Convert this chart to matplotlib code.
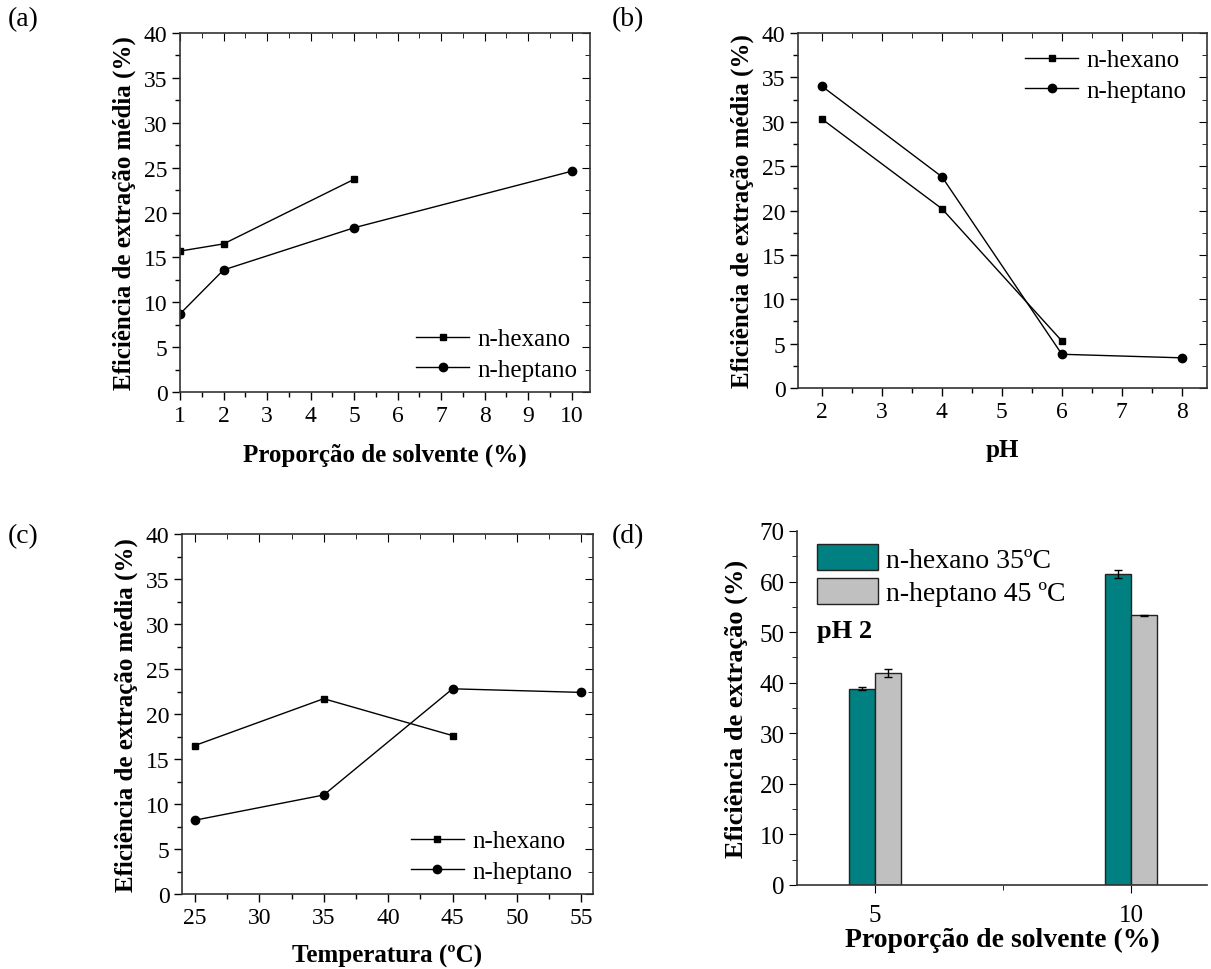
import numpy as np
import matplotlib
matplotlib.use('Agg')
import matplotlib.pyplot as plt
from matplotlib.ticker import MultipleLocator, AutoMinorLocator

plt.rcParams['font.family'] = ['Liberation Serif', 'DejaVu Serif']

# (a) proporcao de solvente
a_hex_x = [1, 2, 5]
a_hex_y = [15.7, 16.5, 23.7]
a_hep_x = [1, 2, 5, 10]
a_hep_y = [8.7, 13.6, 18.3, 24.6]

# (b) pH
b_hex_x = [2, 4, 6]
b_hex_y = [30.3, 20.2, 5.3]
b_hep_x = [2, 4, 6, 8]
b_hep_y = [34.0, 23.8, 3.8, 3.4]

# (c) temperatura
c_hex_x = [25, 35, 45]
c_hex_y = [16.5, 21.7, 17.6]
c_hep_x = [25, 35, 45, 55]
c_hep_y = [8.2, 11.0, 22.8, 22.4]

# (d) barras
d_cats = ['5', '10']
d_hex = [38.8, 61.5]
d_hex_err = [0.3, 0.7]
d_hep = [42.0, 53.3]
d_hep_err = [0.8, 0.1]

W, H = 1211, 970
fig = plt.figure(figsize=(W / 100, H / 100), dpi=100)


def box(l, r, t, b):
    return [l / W, 1 - b / H, (r - l) / W, (b - t) / H]


def style(ax, xmaj, xmin_n, ymaj, ymin_n):
    ax.xaxis.set_major_locator(MultipleLocator(xmaj))
    ax.xaxis.set_minor_locator(AutoMinorLocator(xmin_n))
    ax.yaxis.set_major_locator(MultipleLocator(ymaj))
    ax.yaxis.set_minor_locator(AutoMinorLocator(ymin_n))
    ax.tick_params(which='both', direction='out', top=False, right=False,
                   labelsize=17, width=1, colors='black', pad=3)
    ax.tick_params(which='major', length=6)
    ax.tick_params(which='minor', length=3.5)
    for s in ax.spines.values():
        s.set_linewidth(1.2)
        s.set_color('#333333')
    # mirror ticks pointing inward on top/right
    tx = ax.secondary_xaxis('top')
    tx.xaxis.set_major_locator(MultipleLocator(xmaj))
    tx.xaxis.set_minor_locator(AutoMinorLocator(xmin_n))
    tx.tick_params(which='both', direction='in', labeltop=False)
    tx.tick_params(which='major', length=6)
    tx.tick_params(which='minor', length=3.5)
    tx.spines['top'].set_visible(False)
    ty = ax.secondary_yaxis('right')
    ty.yaxis.set_major_locator(MultipleLocator(ymaj))
    ty.yaxis.set_minor_locator(AutoMinorLocator(ymin_n))
    ty.tick_params(which='both', direction='in', labelright=False)
    ty.tick_params(which='major', length=6)
    ty.tick_params(which='minor', length=3.5)
    ty.spines['right'].set_visible(False)


ylab = 'Eficiência de extração média (%)'
lab_kw = dict(fontsize=18, fontweight='bold')
leg_kw = dict(frameon=False, fontsize=18, handlelength=2.1, handletextpad=0.35,
              labelspacing=0.33, borderaxespad=0, borderpad=0)
hex_kw = dict(color='black', marker='s', markersize=5, lw=1)
hep_kw = dict(color='black', marker='o', markersize=6, lw=1)

# (a)
ax = fig.add_axes(box(180, 590, 34, 393))
ax.plot(a_hex_x, a_hex_y, label='n-hexano', **hex_kw)
ax.plot(a_hep_x, a_hep_y, label='n-heptano', **hep_kw)
ax.set_xlim(1, 10.42)
ax.set_ylim(0, 40)
style(ax, 1, 2, 5, 2)
ax.set_xlabel('Proporção de solvente (%)', labelpad=12, **lab_kw)
ax.set_ylabel(ylab, labelpad=6, **lab_kw)
ax.legend(loc='lower right', bbox_to_anchor=(0.97, 0.03), **leg_kw)

# (b)
ax = fig.add_axes(box(798, 1207, 34, 389))
ax.plot(b_hex_x, b_hex_y, label='n-hexano', **hex_kw)
ax.plot(b_hep_x, b_hep_y, label='n-heptano', **hep_kw)
ax.set_xlim(1.6, 8.42)
ax.set_ylim(0, 40)
style(ax, 1, 2, 5, 2)
ax.set_xlabel('pH', labelpad=12, **lab_kw)
ax.set_ylabel(ylab, labelpad=6, **lab_kw)
ax.legend(loc='upper right', bbox_to_anchor=(0.95, 0.955), **leg_kw)

# (c)
ax = fig.add_axes(box(182, 593, 535, 895))
ax.plot(c_hex_x, c_hex_y, label='n-hexano', **hex_kw)
ax.plot(c_hep_x, c_hep_y, label='n-heptano', **hep_kw)
ax.set_xlim(24, 55.9)
ax.set_ylim(0, 40)
style(ax, 5, 2, 5, 2)
ax.set_xlabel('Temperatura (ºC)', labelpad=12, **lab_kw)
ax.set_ylabel(ylab, labelpad=6, **lab_kw)
ax.legend(loc='lower right', bbox_to_anchor=(0.95, 0.03), **leg_kw)

# (d)
ax = fig.add_axes(box(797, 1207, 532, 886))
pos = np.arange(len(d_cats))
bw = 0.1
ax.bar(pos - bw / 2, d_hex, bw, yerr=d_hex_err, color='#008080', edgecolor='#222222',
       lw=1, capsize=3, error_kw=dict(elinewidth=1, capthick=1), label='n-hexano 35ºC')
ax.bar(pos + bw / 2, d_hep, bw, yerr=d_hep_err, color='#C0C0C0', edgecolor='#222222',
       lw=1, capsize=3, error_kw=dict(elinewidth=1, capthick=1), label='n-heptano 45 ºC')
ax.set_xlim(-0.305, 1.297)
ax.set_ylim(0, 70)
ax.set_xticks(pos)
ax.set_xticklabels(d_cats)
ax.set_xticks([0.5], minor=True)
ax.yaxis.set_major_locator(MultipleLocator(10))
ax.yaxis.set_minor_locator(AutoMinorLocator(2))
ax.tick_params(which='both', direction='out', labelsize=18, pad=3)
ax.tick_params(axis='x', pad=8)
ax.tick_params(which='major', length=6)
ax.tick_params(which='minor', length=3.5)
for s in ax.spines.values():
    s.set_linewidth(1.2)
    s.set_color('#333333')
ax.spines['top'].set_visible(False)
ax.spines['right'].set_visible(False)
ax.set_xlabel('Proporção de solvente (%)', labelpad=0, fontsize=20, fontweight='bold')
ax.set_ylabel('Eficiência de extração (%)', labelpad=8, fontsize=19, fontweight='bold')
ax.legend(loc='upper left', bbox_to_anchor=(20 / 410, 1 - 13 / 354), frameon=False,
          fontsize=20, handlelength=2.2, handleheight=1.08, handletextpad=0.3,
          labelspacing=0.18, borderaxespad=0, borderpad=0)
ax.text(0.049, 0.70, 'pH 2', transform=ax.transAxes, fontsize=19, fontweight='bold')

# panel letters
for s, x, y in [('(a)', 8, 20), ('(b)', 612, 20), ('(c)', 8, 537), ('(d)', 612, 537)]:
    fig.text(x / W, 1 - y / H, s, fontsize=20, va='center', ha='left')

fig.savefig('out.png', dpi=100)
